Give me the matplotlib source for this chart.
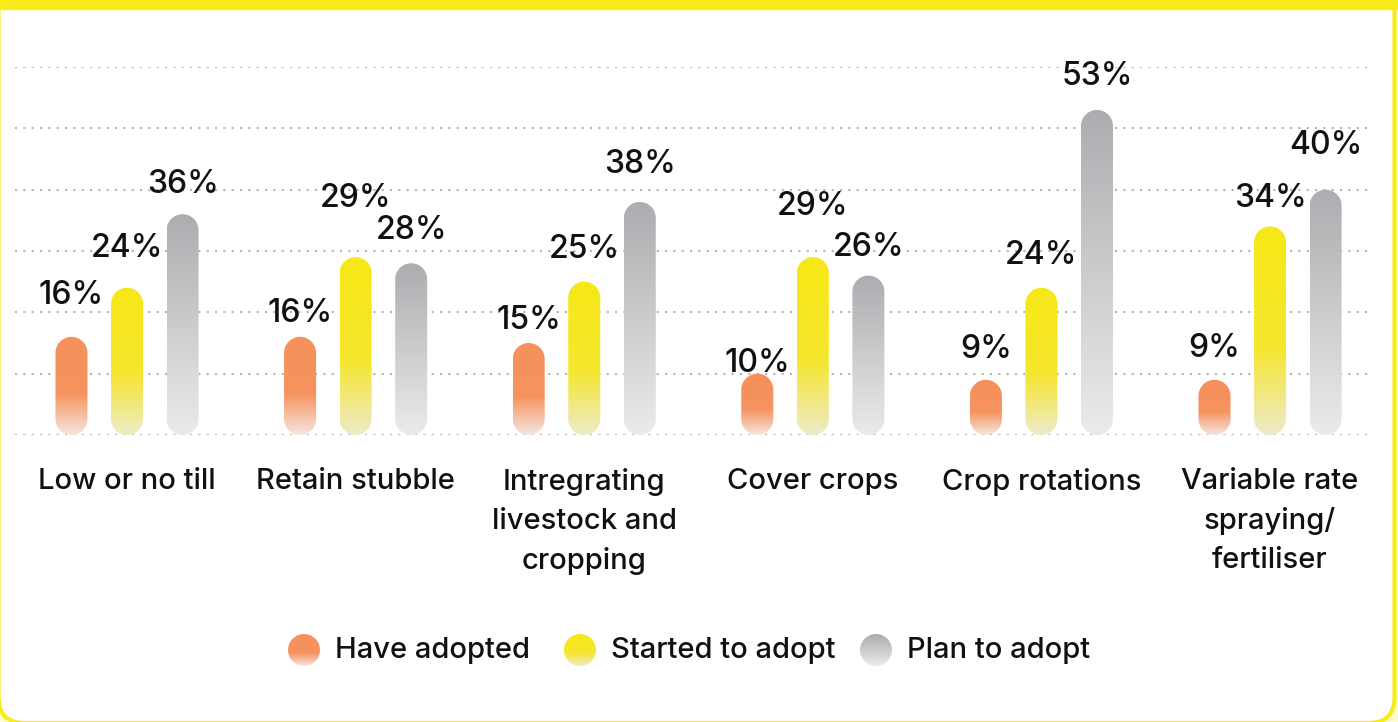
import numpy as np
import matplotlib.pyplot as plt
from matplotlib.colors import LinearSegmentedColormap
from matplotlib.patches import FancyBboxPatch, Rectangle, Circle, Polygon

plt.rcParams['font.family'] = ['Inter', 'DejaVu Sans']

categories = ['Low or no till', 'Retain stubble',
              'Intregrating\nlivestock and\ncropping', 'Cover crops',
              'Crop rotations', 'Variable rate\nspraying/\nfertiliser']
have_adopted = [16, 16, 15, 10, 9, 9]
started_to_adopt = [24, 29, 25, 29, 24, 34]
plan_to_adopt = [36, 28, 38, 26, 53, 40]
series_names = ['Have adopted', 'Started to adopt', 'Plan to adopt']
series = [have_adopted, started_to_adopt, plan_to_adopt]

# how far each value label sits above its bar (pixels), so neighbours don't collide
label_lift = [
    [33, 15, 14, 2, 22, 23],
    [31, 50, 24, 42, 24, 19],
    [21, 24, 29, 20, 25, 36],
]

YELLOW = '#f7eb1b'
INK = '#111111'
# gradient stops, bottom -> top
grads = [
    [(0.0, '#f5e6de'), (0.42, '#f6935f'), (1.0, '#f6905c')],
    [(0.0, '#eeebca'), (0.42, '#f5e62e'), (1.0, '#f7e816')],
    [(0.0, '#ebebeb'), (1.0, '#acadb0')],
]
cmaps = [LinearSegmentedColormap.from_list('g%d' % i, g) for i, g in enumerate(grads)]
ramp = np.linspace(0, 1, 256).reshape(-1, 1)

W, H = 1398, 722
fig = plt.figure(figsize=(W / 100, H / 100), dpi=100)

# background card with yellow frame
bg = fig.add_axes([0, 0, 1, 1], zorder=0)
bg.set_xlim(0, W)
bg.set_ylim(H, 0)
bg.set_autoscale_on(False)
bg.axis('off')
bg.add_patch(Rectangle((0, 0), W, H, color='#fdfacb', zorder=0))
bg.add_patch(FancyBboxPatch((-1.5, -40), 1396, 763,
                            boxstyle='round,pad=0,rounding_size=26',
                            facecolor='white', edgecolor=YELLOW, lw=3, zorder=1))
bg.add_patch(Rectangle((0, 0), W, 8.5, color=YELLOW, zorder=2))

ax = fig.add_axes([15 / W, (H - 435) / H, 1357 / W, 368 / H], zorder=1)
ax.patch.set_alpha(0)
ax.set_xlim(-0.49, 5.446)
ax.set_ylim(0, 60)
ax.set_autoscale_on(False)
for s in ax.spines.values():
    s.set_visible(False)

for g in range(0, 61, 10):
    ax.axhline(g, color='#b5b5b5', lw=1.5, ls=(0, (1, 3)), zorder=1)


def pill(ax, xc, w, h, cmap):
    x0, x1 = xc - w / 2, xc + w / 2
    # keep the ends round on screen
    p = ax.transData.transform([(x0, 0), (x1, 0), (x0, 1)])
    r_px = (p[1, 0] - p[0, 0]) / 2
    ry = min(r_px / (p[2, 1] - p[0, 1]), h / 2)
    t = np.linspace(0, np.pi, 40)
    top = np.column_stack([xc + w / 2 * np.cos(t), h - ry + ry * np.sin(t)])
    bot = np.column_stack([xc - w / 2 * np.cos(t), ry - ry * np.sin(t)])
    shape = Polygon(np.vstack([top, bot]), closed=True, fc='none', ec='none')
    ax.add_patch(shape)
    im = ax.imshow(ramp, cmap=cmap, extent=(x0, x1, 0, h), origin='lower',
                   aspect='auto', interpolation='bilinear', zorder=2)
    im.set_clip_path(shape)


offsets = [-0.243, 0, 0.243]
bar_w = 0.14
for k, vals in enumerate(series):
    for i, v in enumerate(vals):
        xc = i + offsets[k]
        pill(ax, xc, bar_w, v, cmaps[k])
        ax.annotate(f'{v}%', (xc, v), xytext=(0, label_lift[k][i] * 0.72),
                    textcoords='offset points', ha='center', va='baseline',
                    fontsize=23, fontweight='medium', color=INK, zorder=3,
                    annotation_clip=False)

ax.set_yticks([])
ax.set_xticks(range(len(categories)), categories, fontsize=21, fontweight='medium',
              linespacing=1.55, color=INK)
ax.tick_params(axis='x', length=0, pad=24)

# legend
leg_x = [304, 580, 876]
for k, name in enumerate(series_names):
    cx, cy, r = leg_x[k], 650, 16
    dot = Circle((cx, cy), r, fc='none', ec='none', zorder=3)
    bg.add_patch(dot)
    im = bg.imshow(ramp, cmap=cmaps[k], extent=(cx - r, cx + r, cy + r, cy - r),
                   origin='lower', aspect='auto', interpolation='bilinear', zorder=3)
    im.set_clip_path(dot)
    bg.text(cx + 31, cy, name, fontsize=21, fontweight='medium', va='center',
            ha='left', color=INK, zorder=3)

fig.savefig('out.png', dpi=100)
